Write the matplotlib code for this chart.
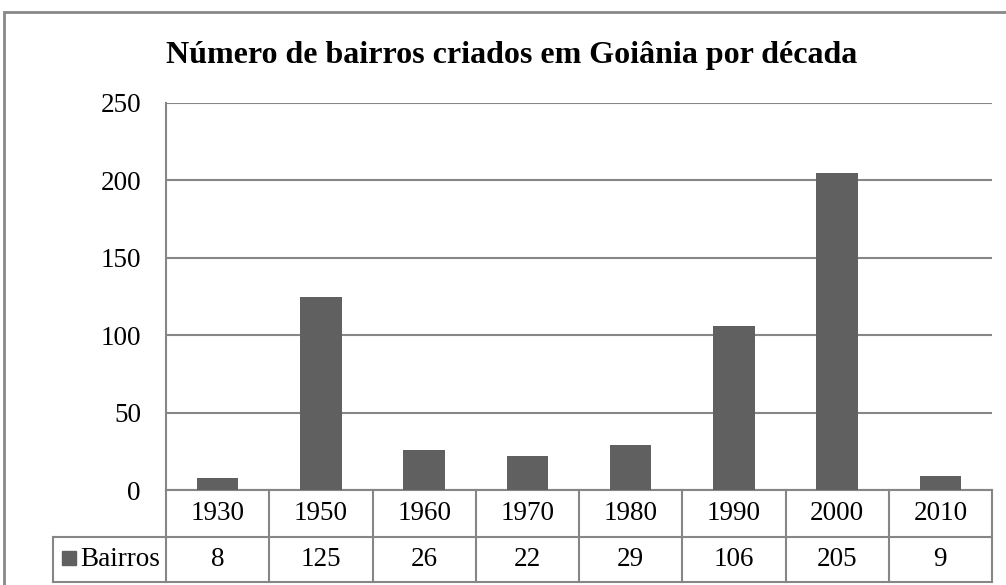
import matplotlib
matplotlib.use("Agg")
import matplotlib.pyplot as plt
from matplotlib.transforms import blended_transform_factory
from matplotlib.patches import Rectangle

categories = ["1930", "1950", "1960", "1970", "1980", "1990", "2000", "2010"]
values = [8, 125, 26, 22, 29, 106, 205, 9]
series_name = "Bairros"
title = "Número de bairros criados em Goiânia por década"
yticks = [0, 50, 100, 150, 200, 250]

W, H = 1006, 585
plt.rcParams['font.family'] = ['Liberation Serif', 'DejaVu Serif']
fig = plt.figure(figsize=(W / 100, H / 100), dpi=100)

def fx(px):
    return px / W

def fy(py):
    return 1 - py / H

L, R, T, B = 166, 992, 103, 490
ax = fig.add_axes([fx(L), fy(B), fx(R) - fx(L), fy(T) - fy(B)])
bar_color = "#606060"
grid_color = "#868686"
fs = 19.5

x = list(range(len(categories)))
ax.bar(x, values, width=0.4, color=bar_color, zorder=3)
ax.set_xlim(-0.5, len(categories) - 0.5)
ax.set_ylim(0, 250)
ax.set_yticks(yticks)
ax.set_yticklabels([str(v) for v in yticks], fontsize=fs)
ax.tick_params(axis='y', length=0, pad=18)
ax.set_xticks([])
for s in ['top', 'right', 'bottom']:
    ax.spines[s].set_visible(False)
ax.spines['left'].set_color(grid_color)
ax.spines['left'].set_linewidth(1.5)
ax.yaxis.grid(True, color=grid_color, linewidth=1.5, zorder=0)
ax.set_axisbelow(True)

# outer frame
fig.patches.append(Rectangle((fx(4), fy(600)), fx(1010) - fx(4), fy(12) - fy(600),
                             transform=fig.transFigure, fill=False,
                             edgecolor="#888888", linewidth=2, clip_on=False))

fig.text(fx(512), fy(55), title, ha='center', va='center', fontsize=23,
         fontweight='bold')

# data table
tr = blended_transform_factory(ax.transData, fig.transFigure)
r0, r1, r2 = B, 537, 582
n = len(categories)
lw = 1.5
ax.plot([-0.5, n - 0.5], [fy(r0)] * 2, transform=tr, color=grid_color, lw=lw, clip_on=False)
fig.lines.append(plt.Line2D([fx(53), fx(R)], [fy(r1)] * 2, transform=fig.transFigure, color=grid_color, lw=lw))
fig.lines.append(plt.Line2D([fx(53), fx(R)], [fy(r2)] * 2, transform=fig.transFigure, color=grid_color, lw=lw))
for i in range(n + 1):
    ax.plot([i - 0.5] * 2, [fy(r0), fy(r2)], transform=tr, color=grid_color, lw=lw, clip_on=False)
fig.lines.append(plt.Line2D([fx(53)] * 2, [fy(r1), fy(r2)], transform=fig.transFigure, color=grid_color, lw=lw))

for i, (c, v) in enumerate(zip(categories, values)):
    ax.text(i, fy((r0 + r1) / 2), c, transform=tr, ha='center', va='center', fontsize=fs)
    ax.text(i, fy((r1 + r2) / 2), str(v), transform=tr, ha='center', va='center', fontsize=fs)

fig.patches.append(Rectangle((fx(62), fy(565)), fx(76) - fx(62), fy(551) - fy(565),
                             transform=fig.transFigure, color=bar_color))
fig.text(fx(80), fy((r1 + r2) / 2), series_name, ha='left', va='center', fontsize=fs)

fig.savefig("out.png", dpi=100)
